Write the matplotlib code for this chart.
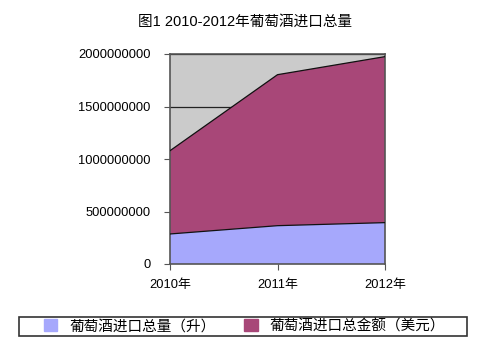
import numpy as np
import matplotlib
matplotlib.use("Agg")
import matplotlib.pyplot as plt
from matplotlib.patches import Patch, Rectangle

plt.rcParams['font.family'] = ['Liberation Sans', 'Noto Sans CJK SC', 'DejaVu Sans']

years = ['2010年', '2011年', '2012年']
volume = [286000000, 365000000, 394000000]      # 葡萄酒进口总量（升）
amount = [793000000, 1438000000, 1581000000]    # 葡萄酒进口总金额（美元）
yticks = [0, 500000000, 1000000000, 1500000000, 2000000000]

fig = plt.figure(figsize=(4.91, 3.54), dpi=100)
ax = fig.add_axes([170 / 491, 1 - 264 / 354, 215 / 491, 210 / 354])

x = np.arange(len(years))
c_vol = '#a6a8fc'
c_amt = '#a84778'
ax.set_facecolor('#cbcbcb')
for yv in yticks:
    ax.axhline(yv, color='#222222', lw=0.9, zorder=0.5)
ax.stackplot(x, volume, amount, colors=[c_vol, c_amt], zorder=2)
top = np.array(volume) + np.array(amount)
ax.plot(x, volume, color='#111111', lw=0.9, zorder=3)
ax.plot(x, top, color='#111111', lw=0.9, zorder=3)

ax.set_xlim(0, 2)
ax.set_ylim(0, 2000000000)
ax.set_xticks(x)
ax.set_xticklabels(years, fontsize=9.3)
ax.set_yticks(yticks)
ax.set_yticklabels([str(v) for v in yticks], fontsize=9.3)
ax.tick_params(axis='y', direction='out', length=4, color='#555555', pad=10)
ax.tick_params(axis='x', direction='out', length=4, color='#555555', pad=7)
for s in ax.spines.values():
    s.set_color('#555555')
    s.set_linewidth(1.2)

fig.text(0.5, 1 - 22 / 354, '图1 2010-2012年葡萄酒进口总量', ha='center', va='center', fontsize=10.5)

# legend frame drawn by hand, legend itself frameless
fig.patches.append(Rectangle((19 / 491, 1 - 336 / 354), 448 / 491, 19 / 354,
                             transform=fig.transFigure, fill=False,
                             edgecolor='#333333', lw=1.2))
handles = [Patch(facecolor=c_vol, edgecolor=c_vol), Patch(facecolor=c_amt, edgecolor=c_amt)]
leg = fig.legend(handles, ['葡萄酒进口总量（升）', '葡萄酒进口总金额（美元）'],
                 loc='center left', bbox_to_anchor=(34 / 491, 1 - 326 / 354), ncol=2,
                 fontsize=10.5, frameon=False,
                 handlelength=0.9, handleheight=0.9, handletextpad=0.8,
                 columnspacing=2.0, borderpad=0.2)

fig.savefig('out.png', dpi=100)
